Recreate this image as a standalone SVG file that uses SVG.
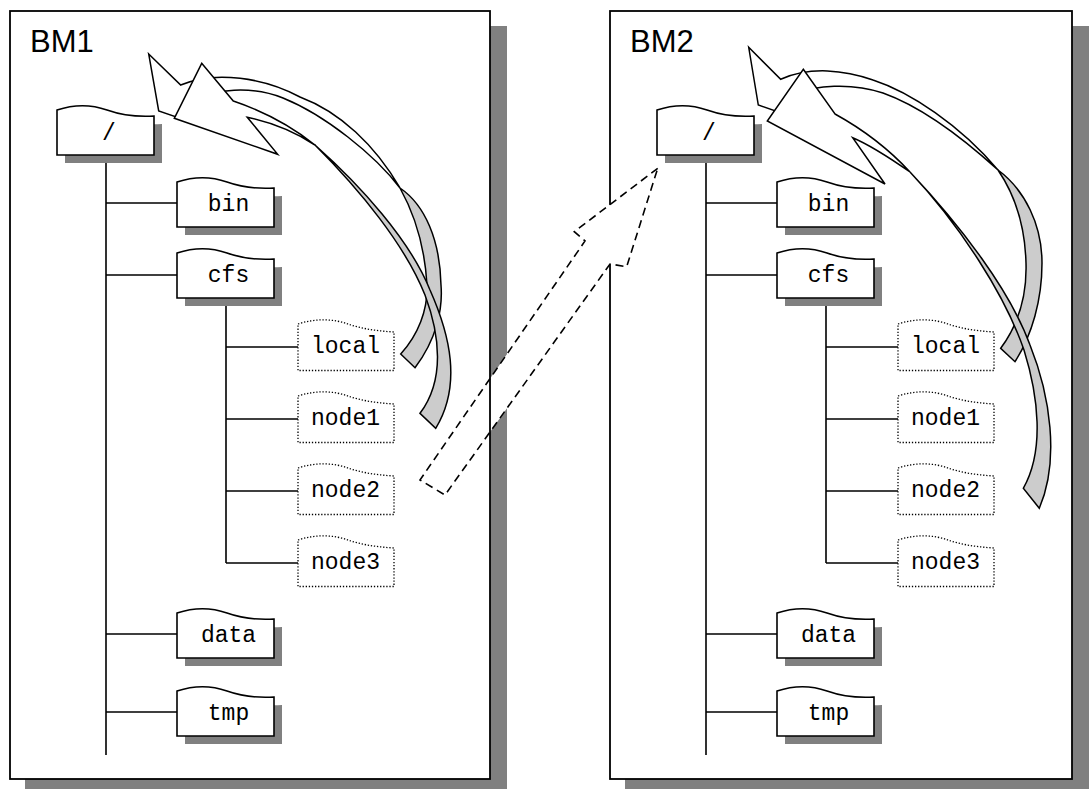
<svg xmlns="http://www.w3.org/2000/svg" xmlns:xlink="http://www.w3.org/1999/xlink" width="1090" height="789" viewBox="0 0 1090 789">
<style>
.frame{fill:#fff;stroke:#000;stroke-width:1.8}
.frameline{fill:none;stroke:#000;stroke-width:1.8}
.shadow{fill:#808080}
.box{fill:#fff;stroke:#000;stroke-width:1.6}
.dbox{fill:#fff;stroke:#000;stroke-width:1.3;stroke-dasharray:1.3 1.8}
.ln{stroke:#000;stroke-width:1.6;fill:none}
.lbl{font-family:"Liberation Mono","Courier New",monospace;font-size:23px;text-anchor:middle;fill:#000}
.title{font-family:"Liberation Sans",Arial,sans-serif;font-size:31px;fill:#000}
.gray{fill:#cccccc;stroke:#000;stroke-width:1.5;stroke-linejoin:miter}
.white{fill:#fff;stroke:#000;stroke-width:1.5;stroke-linejoin:miter}
.dash{fill:#fff;stroke:#000;stroke-width:1.6;stroke-dasharray:8 5}
</style>
<defs>
<path id="fold" d="M0,0 C18,-6 36,-5 50,0 C64,5 80,7 97,6 L97,45 L0,45 Z"/>
<path id="dfold" d="M0,0 C18,-6 36,-5 50,0 C64,5 80,7 96,8 L96,46.5 L0,46.5 Z"/>
</defs>

<g id="frame-bm1">
<rect class="shadow" x="25" y="26" width="482" height="770"/>
<rect x="10" y="11" width="480" height="768" fill="#fff"/>
<text class="title" x="30" y="52">BM1</text>
</g>
<g id="frame-bm2">
<rect class="shadow" x="625" y="26" width="464" height="770"/>
<rect class="frame" x="610" y="11" width="462" height="768"/>
<text class="title" x="630" y="52">BM2</text>
</g>

<g id="connectors">
<path class="dash" d="M657.7,168.3 L574.3,231.7 L585,241 L420,480 L445,495 L610,264 L626.7,266.7 Z"/>
<rect class="frameline" x="10" y="11" width="480" height="768"/>
<g id="tree-bm1">
<path class="ln" d="M106,154 V755 M106,203 H177 M106,275 H177 M106,634 H177 M106,712 H177 M226,298 V563 M226,347 H298 M226,419 H298 M226,491 H298 M226,563 H298"/>
</g>
<g id="tree-bm2">
<path class="ln" d="M706,154 V755 M706,203 H777 M706,275 H777 M706,634 H777 M706,712 H777 M826,298 V563 M826,347 H898 M826,419 H898 M826,491 H898 M826,563 H898"/>
</g>
</g>

<g id="bm1-root"><use href="#fold" class="shadow" transform="translate(65,118)"/><use href="#fold" class="box" transform="translate(57,110)"/><text class="lbl" x="109" y="140">/</text></g>
<g id="bm1-bin"><use href="#fold" class="shadow" transform="translate(185,190)"/><use href="#fold" class="box" transform="translate(177,182)"/><text class="lbl" x="228.5" y="211">bin</text></g>
<g id="bm1-cfs"><use href="#fold" class="shadow" transform="translate(185,261)"/><use href="#fold" class="box" transform="translate(177,253)"/><text class="lbl" x="228.5" y="282">cfs</text></g>
<g id="bm1-data"><use href="#fold" class="shadow" transform="translate(185,621)"/><use href="#fold" class="box" transform="translate(177,613)"/><text class="lbl" x="228.5" y="642">data</text></g>
<g id="bm1-tmp"><use href="#fold" class="shadow" transform="translate(185,699)"/><use href="#fold" class="box" transform="translate(177,691)"/><text class="lbl" x="228.5" y="720">tmp</text></g>
<g id="bm1-local"><use href="#dfold" class="dbox" transform="translate(298,324)"/><text class="lbl" x="345.5" y="353">local</text></g>
<g id="bm1-node1"><use href="#dfold" class="dbox" transform="translate(298,396)"/><text class="lbl" x="345.5" y="425">node1</text></g>
<g id="bm1-node2"><use href="#dfold" class="dbox" transform="translate(298,468)"/><text class="lbl" x="345.5" y="497">node2</text></g>
<g id="bm1-node3"><use href="#dfold" class="dbox" transform="translate(298,540)"/><text class="lbl" x="345.5" y="569">node3</text></g>

<g id="bm2-root"><use href="#fold" class="shadow" transform="translate(665,118)"/><use href="#fold" class="box" transform="translate(657,110)"/><text class="lbl" x="709" y="140">/</text></g>
<g id="bm2-bin"><use href="#fold" class="shadow" transform="translate(785,190)"/><use href="#fold" class="box" transform="translate(777,182)"/><text class="lbl" x="828.5" y="211">bin</text></g>
<g id="bm2-cfs"><use href="#fold" class="shadow" transform="translate(785,261)"/><use href="#fold" class="box" transform="translate(777,253)"/><text class="lbl" x="828.5" y="282">cfs</text></g>
<g id="bm2-data"><use href="#fold" class="shadow" transform="translate(785,621)"/><use href="#fold" class="box" transform="translate(777,613)"/><text class="lbl" x="828.5" y="642">data</text></g>
<g id="bm2-tmp"><use href="#fold" class="shadow" transform="translate(785,699)"/><use href="#fold" class="box" transform="translate(777,691)"/><text class="lbl" x="828.5" y="720">tmp</text></g>
<g id="bm2-local"><use href="#dfold" class="dbox" transform="translate(898,324)"/><text class="lbl" x="945.5" y="353">local</text></g>
<g id="bm2-node1"><use href="#dfold" class="dbox" transform="translate(898,396)"/><text class="lbl" x="945.5" y="425">node1</text></g>
<g id="bm2-node2"><use href="#dfold" class="dbox" transform="translate(898,468)"/><text class="lbl" x="945.5" y="497">node2</text></g>
<g id="bm2-node3"><use href="#dfold" class="dbox" transform="translate(898,540)"/><text class="lbl" x="945.5" y="569">node3</text></g>

<g id="curved-arrows">
<g id="bm1-arrow-local">
<path class="gray" d="M400,188 C425,205 440,240 441,285 C443,310 436,340 415,367.7 L400.7,354 C418,335 428,310 427,285 C425,250 415,215 400,188 Z"/>
<path class="white" d="M148.7,54 L180.7,85 C215,70 265,78 300,97 C340,112 375,145 400,188 C375,155 325,115 283,98 C250,85 215,90 195,99 L233.7,136.6 L158.7,111 Z"/>
</g>
<g id="bm1-arrow-node1">
<path class="gray" d="M315,145 C360,185 410,240 430,290 C450,335 462,385 435.7,428.3 L420,413.3 C445,380 440,335 425,295 C405,245 360,190 315,145 Z"/>
<path class="white" d="M201.7,63.3 L233.3,101 C260,110 290,125 315,145 C295,132 270,122 247.3,117.3 L277.7,154.3 L174.3,118.3 Z"/>
</g>
<g id="bm2-arrow-local">
<path class="gray" d="M998,170 C1025,190 1042,225 1042,263 C1042,300 1032,335 1015,361.7 L1000.7,348.3 C1018,325 1027,295 1026,263 C1025,225 1015,195 998,170 Z"/>
<path class="white" d="M748.7,47.3 L780.7,79.3 C810,66 845,70 873,80 C910,92 960,125 998,170 C965,140 925,108 883,93 C850,82 815,86 794.8,93.4 L832.1,130.7 L758.3,105 Z"/>
</g>
<g id="bm2-arrow-node2">
<path class="gray" d="M910,172 C960,225 1010,290 1030,345 C1050,395 1060,460 1039.3,508.3 L1023.3,488.3 C1045,450 1038,395 1024,350 C1005,295 960,225 910,172 Z"/>
<path class="white" d="M803.3,69.3 L835,114 C855,125 885,145 910,172 C890,158 870,145 852.7,137.7 L885,184 L767.3,121 Z"/>
</g>
</g>
</svg>
